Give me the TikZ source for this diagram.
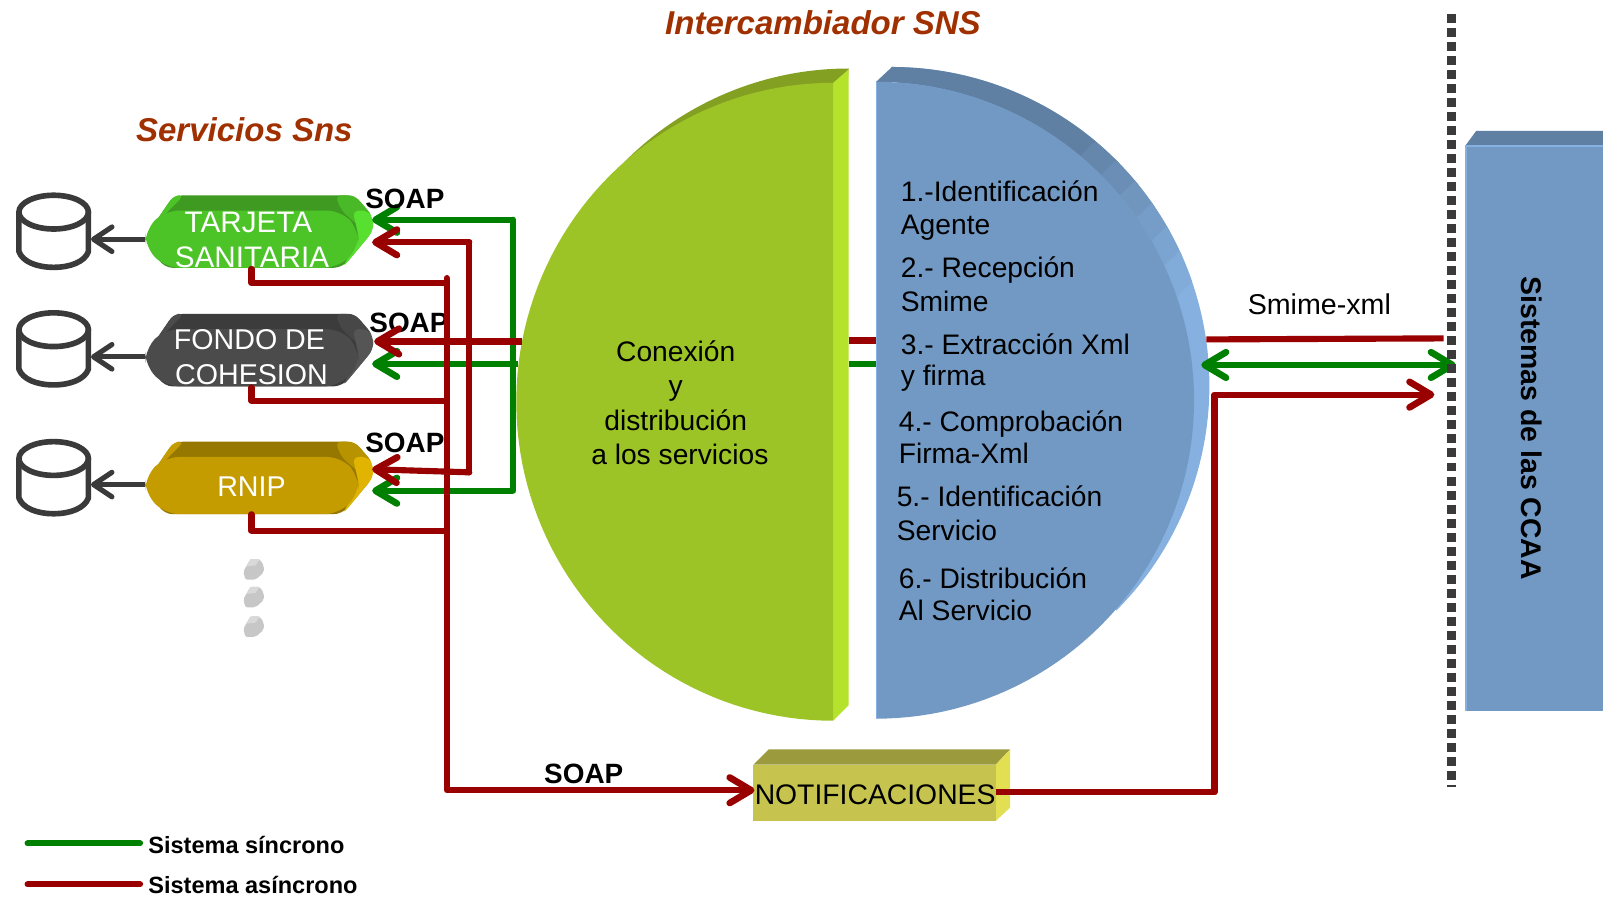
\documentclass[tikz,border=0pt]{standalone}
\usepackage{fontspec}
\setmainfont{Liberation Sans}
\usetikzlibrary{arrows.meta,calc}
\definecolor{cgreen}{HTML}{008000}
\definecolor{cred}{HTML}{990000}
\definecolor{cdark}{HTML}{3A3A3A}
\definecolor{ctitle}{HTML}{A03000}
\definecolor{gfront}{HTML}{9DC427}
\definecolor{gside}{HTML}{B5E32B}
\definecolor{gtop}{HTML}{84A022}
\definecolor{bfront}{HTML}{7299C4}
\definecolor{blight}{HTML}{85B0DF}
\definecolor{btop}{HTML}{5F80A3}
\definecolor{notifTop}{HTML}{9B9A3C}
\definecolor{notifSide}{HTML}{E2E052}
\definecolor{notifFront}{HTML}{C6C44E}
\definecolor{pa}{HTML}{4CC428}
\definecolor{pb}{HTML}{3F9A22}
\definecolor{pc}{HTML}{58E030}
\definecolor{qa}{HTML}{4B4B4B}
\definecolor{qb}{HTML}{3C3C3C}
\definecolor{qc}{HTML}{555555}
\definecolor{ra}{HTML}{C49C00}
\definecolor{rb}{HTML}{967800}
\definecolor{rc}{HTML}{E0B400}
\newcommand\fs[2]{\fontsize{#1}{#2}\selectfont}
\tikzset{
  gline/.style={cgreen,line width=6pt,line join=round},
  rline/.style={cred,line width=6pt,line join=round,line cap=round},
  gtip/.style={-{Straight Barb[length=21pt,width=25pt,line width=6.5pt,round]}},
  dbline/.style={cdark,line width=4.5pt,-{Straight Barb[length=18pt,width=24pt,line width=5pt,round]}},
  dbshape/.style={cdark,line width=5.5pt,line join=round},
  pilltxt/.style={white,font=\fs{28}{34},align=center,inner sep=0pt},
  soap/.style={black,font=\fs{27.3}{32}\bfseries,inner sep=0pt},
  title/.style={ctitle,font=\fs{32.3}{38}\bfseries\itshape,inner sep=0pt},
  body/.style={black,font=\fs{27.6}{33},align=left,inner sep=0pt,anchor=west},
  bodytight/.style={black,font=\fs{27.6}{31},align=left,inner sep=0pt,anchor=west},
  ctr/.style={black,font=\fs{27.6}{32},inner sep=0pt},
  legend/.style={black,font=\fs{23}{28}\bfseries,inner sep=0pt,anchor=west},
}
% pill body: y offset, front, top band, bright end
\newcommand\pillbody[4]{%
  \begin{scope}[shift={(0,#1)}]
    \fill[#3,rounded corners=9pt] (142,232) -- (170,191) -- (347,191) -- (365,212) -- (365,226) -- (335,262) -- (160,262) -- cycle;
    \fill[#3!55!#4,rounded corners=6pt] (328,191) -- (347,191) -- (365,212) -- (352,222) -- (334,206) -- cycle;
    \fill[#4,rounded corners=6pt] (345,206) -- (360,206) -- (365,214) -- (365,226) -- (335,262) -- (351,232) -- cycle;
    \fill[#2,rounded corners=6pt] (142,232) -- (170,191) -- (180,191) -- (165,206) -- cycle;
    \fill[#2,rounded corners=14pt] (142,225) -- (161,206) -- (334,206) -- (351,225) -- (351,242) -- (331,262) -- (162,262) -- (142,242) -- cycle;
  \end{scope}}
% database cylinder: y offset
\newcommand\dbshape[1]{%
  \begin{scope}[shift={(0,#1)}]
    \draw[dbshape,fill=white] (18.5,207) -- (18.5,246) .. controls (22,256) and (36,261.5) .. (52.5,261.5) .. controls (69,261.5) and (83,256) .. (86.5,246) -- (86.5,207);
    \draw[dbshape] (52.5,207.5) ellipse[x radius=34,y radius=16.5];
  \end{scope}}
\newcommand\dotshape[1]{%
  \fill[black!22,rounded corners=2pt] ($(248,#1)+(-10,2)$) -- ($(248,#1)+(-3,-10)$) -- ($(248,#1)+(6,-10)$) -- ($(248,#1)+(10,-4)$) -- ($(248,#1)+(10,3)$) -- ($(248,#1)+(2,10)$) -- ($(248,#1)+(-8,10)$) -- cycle;
  \fill[black!15] ($(248,#1)+(-3,-10)$) -- ($(248,#1)+(6,-10)$) -- ($(248,#1)+(2,-4)$) -- ($(248,#1)+(-7,-3)$) -- cycle;}
\begin{document}
\begin{tikzpicture}[x=1pt,y=-1pt]
\useasboundingbox[fill=white] (0,0) rectangle (1568,877.4);

% ---- named ends
\coordinate (tjOutG) at (502,215);
\coordinate (tjTipG) at (364,215);
\coordinate (tjOutR) at (459,237);
\coordinate (tjTipR) at (364,237);
\coordinate (tjDown) at (246,263);
\coordinate (tjBend) at (246,277);
\coordinate (busTj) at (437,277);
\coordinate (fdTipR) at (366,334);
\coordinate (fdOutR) at (511,334);
\coordinate (fdTipG) at (364,356);
\coordinate (fdOutG) at (507,356);
\coordinate (fdDown) at (246,379);
\coordinate (fdBend) at (246,392);
\coordinate (busFd) at (437,392);
\coordinate (rnTipR) at (364,459);
\coordinate (rnOutR) at (459,462);
\coordinate (rnTipG) at (364,480);
\coordinate (rnOutG) at (502,480);
\coordinate (rnDown) at (246,503);
\coordinate (rnBend) at (246,519);
\coordinate (busRn) at (437,519);
\coordinate (busTop) at (437,272);
\coordinate (busCorner) at (437,773);
\coordinate (busTip) at (738,773);
\coordinate (gapRa) at (830,333);
\coordinate (gapRb) at (857,333);
\coordinate (gapGa) at (830,356);
\coordinate (gapGb) at (857,356);
\coordinate (smRa) at (1180,332);
\coordinate (smRb) at (1412,331);
\coordinate (smGa) at (1175,357);
\coordinate (smGb) at (1424,357);
\coordinate (upStart) at (974,775);
\coordinate (upCorner) at (1188,775);
\coordinate (upTurn) at (1188,386);
\coordinate (upTip) at (1403,386);
\coordinate (sepTop) at (1420,14);
\coordinate (sepBot) at (1420,770);
\coordinate (db1) at (89,234);
\coordinate (db2) at (89,349);
\coordinate (db3) at (89,474);
\coordinate (pl1) at (142,234);
\coordinate (pl2) at (142,349);
\coordinate (pl3) at (142,474);
\coordinate (lgGa) at (27,825);
\coordinate (lgGb) at (137,825);
\coordinate (lgRa) at (27,865);
\coordinate (lgRb) at (137,865);

% ---- green half disc
\fill[gtop] (830,68) -- plot[samples=40,domain=90:135] ({830+310*cos(\x)},{379-312*sin(\x)}) -- (815,300) -- cycle;
\fill[gside] (815,81) -- (830,68) -- (830,690) -- (815,705) -- cycle;
\fill[gfront] plot[samples=90,domain=90:270] ({815+310*cos(\x)},{393-312*sin(\x)}) -- cycle;

% ---- blue half disc
\fill[blight] (872,66) -- plot[samples=80,domain=90:-45] ({872+311*cos(\x)},{377-311.5*sin(\x)}) -- (1000,400) -- cycle;
\foreach \a/\b/\p in {50/44/85,45/39/70,40/34/55,35/29/40,30/24/25,25/19/10}{
  \fill[btop!\p!blight] plot[samples=6,domain=\a:\b] ({872+311*cos(\x)},{377-311.5*sin(\x)}) -- plot[samples=6,domain=\b:\a] ({857+311*cos(\x)},{391.5-311.5*sin(\x)}) -- cycle;
}
\fill[btop] (857,80) -- (872,66) -- plot[samples=40,domain=90:50] ({872+311*cos(\x)},{377-311.5*sin(\x)}) -- plot[samples=40,domain=50:90] ({857+311*cos(\x)},{391.5-311.5*sin(\x)}) -- cycle;
\fill[bfront] plot[samples=90,domain=90:-90] ({857+311*cos(\x)},{391.5-311.5*sin(\x)}) -- cycle;
\draw[blight,line width=1pt] (857.5,80) -- (857.5,703);

% ---- right box
\fill[btop] (1433,143) -- (1444,128) -- (1568,128) -- (1568,143) -- cycle;
\fill[bfront] (1433,143) rectangle (1568,695);
\draw[blight,line width=1.5pt] (1434,143) -- (1434,695);
\draw[blight,line width=1.5pt] (1433,143) -- (1568,143);
\node[black,font=\fs{27.8}{32}\bfseries,rotate=-90,inner sep=0pt] (ccaa) at (1498,419) {Sistemas de las CCAA};

% ---- notificaciones box
\fill[notifTop] (737,748) -- (752,733) -- (988,733) -- (974,748) -- cycle;
\fill[notifSide] (974,748) -- (988,733) -- (988,790) -- (974,803) -- cycle;
\fill[notifFront] (737,748) rectangle (974,803);
\node[black,font=\fs{27.7}{32},inner sep=0pt] (notif) at (856,777) {NOTIFICACIONES};

% ---- pills
\pillbody{0}{pa}{pb}{pc}
\pillbody{116}{qa}{qb}{qc}
\pillbody{241}{ra}{rb}{rc}
\node[pilltxt,font=\fs{29}{34}] (tj) at (243,235) {TARJETA\\\hspace*{7pt}SANITARIA};
\node[pilltxt] (fd) at (244,349.5) {FONDO DE\\\hspace*{4pt}COHESION};
\node[pilltxt] (rn) at (246,476) {RNIP};

% ---- databases
\dbshape{0}
\dbshape{115}
\dbshape{241}
\draw[dbline] (pl1) -- (db1);
\draw[dbline] (pl2) -- (db2);
\draw[dbline] (pl3) -- (db3);

% ---- dots
\dotshape{557}
\dotshape{584}
\dotshape{613}

% ---- label under the red lines
\node[soap] (s2) at (400,316) {SOAP};

% ---- green connectors
\draw[gline,gtip] (tjOutG) -- (tjTipG);
\draw[gline,gtip] (rnOutG) -- (rnTipG);
\draw[gline,line cap=round] (tjOutG) -- (rnOutG);
\draw[gline,gtip] (fdOutG) -- (fdTipG);
\draw[gline] (gapGa) -- (gapGb);
\draw[gline,{Straight Barb[length=21pt,width=25pt,line width=6.5pt,round]}-{Straight Barb[length=21pt,width=25pt,line width=6.5pt,round]}] (smGa) -- (smGb);

% ---- red connectors
\draw[rline,gtip] (tjOutR) -- (tjTipR);
\draw[rline,gtip] (rnOutR) -- (rnTipR);
\draw[rline] (tjOutR) -- (rnOutR);
\draw[rline,line cap=butt,gtip] (fdOutR) -- (fdTipR);
\draw[rline,line cap=butt] (gapRa) -- (gapRb);
\draw[rline,line cap=butt] (smRa) -- (smRb);
\draw[rline] (tjDown) -- (tjBend) -- (busTj);
\draw[rline] (fdDown) -- (fdBend) -- (busFd);
\draw[rline] (rnDown) -- (rnBend) -- (busRn);
\draw[rline,gtip] (busTop) -- (busCorner) -- (busTip);
\draw[rline,gtip,line cap=butt] (upStart) -- (upCorner) -- (upTurn) -- (upTip);

% ---- separator
\draw[cdark,line width=9pt,dash pattern=on 8.8pt off 4.9pt] (sepTop) -- (sepBot);

% ---- labels
\node[title] (t1) at (805,22) {Intercambiador SNS};
\node[title] (t2) at (239,127) {Servicios Sns};
\node[soap] (s1) at (396,195) {SOAP};
\node[soap] (s3) at (396,433) {SOAP};
\node[soap] (s4) at (571,757) {SOAP};
\node[ctr] (c1) at (661,344) {Conexión};
\node[ctr] (c2) at (661,382) {y};
\node[ctr] (c3) at (661,411) {distribución};
\node[ctr] (c4) at (665,444) {a los servicios};
\node[body] (l1) at (881,206) {1.-Identificación\\Agente};
\node[body] (l2) at (881,278) {2.- Recepción\\Smime};
\node[bodytight] (l3) at (881,354.5) {3.- Extracción Xml\\y firma};
\node[bodytight] (l4) at (879,428) {4.- Comprobación\\Firma-Xml};
\node[body] (l5) at (877,502) {5.- Identificación\\Servicio};
\node[bodytight] (l6) at (879,581.5) {6.- Distribución\\Al Servicio};
\node[ctr,font=\fs{28}{32}] (sm) at (1290.5,298) {Smime-xml};

% ---- legend
\draw[gline,line cap=round] (lgGa) -- (lgGb);
\draw[rline] (lgRa) -- (lgRb);
\node[legend] (lg1) at (145,827) {Sistema síncrono};
\node[legend] (lg2) at (145,866) {Sistema asíncrono};
\end{tikzpicture}
\end{document}
